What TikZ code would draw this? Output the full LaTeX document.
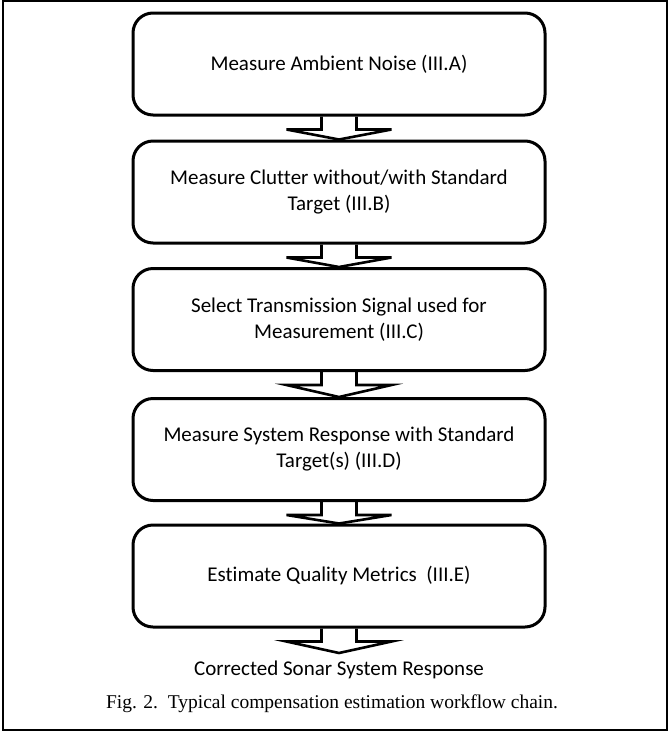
\documentclass[tikz,border=0pt]{standalone}
\usepackage{fontspec}
\setmainfont{Carlito}[Ligatures=NoCommon]
\newfontfamily\capfont{Liberation Serif}
\usetikzlibrary{calc}
\begin{document}
\begin{tikzpicture}[x=1pt,y=1pt,
  stepbox/.style={draw, line width=3pt, rounded corners=20pt, minimum width=412pt, minimum height=102pt, align=center, inner sep=0pt, font=\fontsize{21}{26}\selectfont},
  arr/.style={draw, line width=2.6pt, line join=miter}]
\useasboundingbox (0,0) rectangle (670,-732);
\draw[line width=1.6pt] (3,-1) rectangle (667,-730);
\node[stepbox] (b1) at (339,-64) {Measure Ambient Noise (III.A)};
\node[stepbox] (b2) at (339,-192) {Measure Clutter without/with Standard\\Target (III.B)};
\node[stepbox] (b3) at (339,-319.5) {Select Transmission Signal used for\\Measurement (III.C)};
\node[stepbox] (b4) at (339,-449.5) {Measure System Response with Standard\\Target(s) (III.D)};
\node[stepbox] (b5) at (339,-576) {Estimate Quality Metrics~ (III.E)};
\coordinate (out) at (339,-653);
\node[font=\fontsize{21}{26}\selectfont, anchor=base] (res) at (339,-675) {Corrected Sonar System Response};
\node[font=\capfont\fontsize{19.5}{24}\selectfont, anchor=base] (cap) at (332,-708) {Fig. 2.\ \ Typical compensation estimation workflow chain.};
\foreach \a/\b in {b1/b2.north, b2/b3.north, b3/b4.north, b4/b5.north, b5/out} {
  \draw[arr] ($(\a.south)+(-17.5,0)$) -- ($(\a.south)+(-17.5,-13)$) -- ($(\a.south)+(-52.5,-13)$) -- (\b) -- ($(\a.south)+(52.5,-13)$) -- ($(\a.south)+(17.5,-13)$) -- ($(\a.south)+(17.5,0)$);
}
\end{tikzpicture}
\end{document}
